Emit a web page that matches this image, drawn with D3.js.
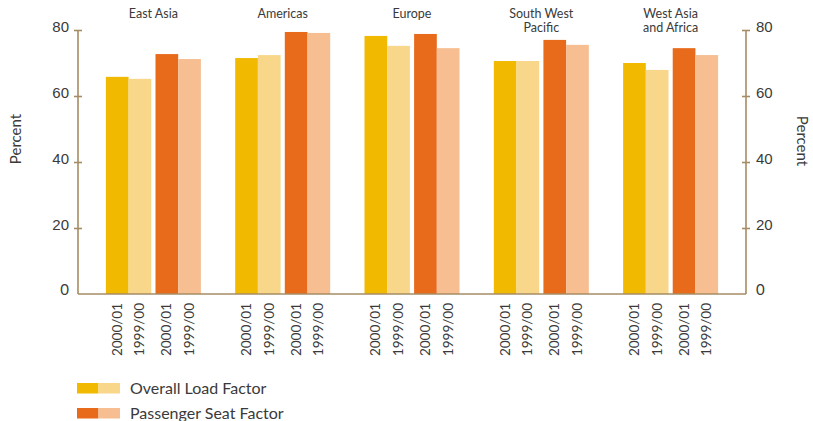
<!DOCTYPE html>
<html>
<head>
<meta charset="utf-8">
<script src="https://cdn.jsdelivr.net/npm/d3@7"></script>
<style>
  html, body { margin: 0; padding: 0; background: #fff; }
  svg { display: block; font-family: Lato, "Open Sans", "DejaVu Sans", sans-serif; }
  text { fill: #3a3a3a; }
</style>
</head>
<body>
<svg id="chart" width="813" height="421"></svg>
<script>
// Regions (two-line names split on "\n")
const regions = ["East Asia", "Americas", "Europe", "South West\nPacific", "West Asia\nand Africa"];
const factors = ["Overall Load Factor", "Passenger Seat Factor"];
const years = ["2000/01", "1999/00"];

// Percent values per region
const overall2000 = [65.8, 71.5, 78.2, 70.6, 70.0];
const overall1999 = [65.2, 72.4, 75.2, 70.6, 67.9];
const seat2000    = [72.7, 79.4, 78.8, 77.0, 74.5];
const seat1999    = [71.2, 79.1, 74.5, 75.5, 72.4];

const yTicks = [0, 20, 40, 60, 80];

const colors = {
  "Overall Load Factor": { "2000/01": "#f1ba00", "1999/00": "#f8d78b" },
  "Passenger Seat Factor": { "2000/01": "#e86a1b", "1999/00": "#f6be91" }
};

const series = [
  { factor: factors[0], year: years[0], values: overall2000 },
  { factor: factors[0], year: years[1], values: overall1999 },
  { factor: factors[1], year: years[0], values: seat2000 },
  { factor: factors[1], year: years[1], values: seat1999 }
];

const svg = d3.select("#chart");
const axisColor = "#a68c64";

const plot = { left: 78, right: 746, top: 30, bottom: 294 };

const x = d3.scaleBand().domain(regions)
  .range([plot.left, plot.right]).paddingInner(0).paddingOuter(0.083);
const xFactor = d3.scaleBand().domain(factors).range([-47.5, 47.5]).paddingInner(0.085);
const xYear = d3.scaleBand().domain(years).range([0, xFactor.bandwidth()]);
const y = d3.scaleLinear().domain([0, 80]).range([plot.bottom, plot.top]);

// Bars
const bars = [];
series.forEach(s => s.values.forEach((v, i) => bars.push({ region: regions[i], factor: s.factor, year: s.year, value: v })));

const barX = d => x(d.region) + x.bandwidth() / 2 + xFactor(d.factor) + xYear(d.year);

svg.append("g").selectAll("rect").data(bars).join("rect")
  .attr("x", barX)
  .attr("y", d => y(d.value))
  .attr("width", xYear.bandwidth())
  .attr("height", d => y(0) - y(d.value))
  .attr("fill", d => colors[d.factor][d.year]);

// Region headings, one text per line
const headLines = [];
regions.forEach(r => r.split("\n").forEach((line, i) => headLines.push({ region: r, line, i })));
svg.append("g").selectAll("text").data(headLines).join("text")
  .attr("x", d => x(d.region) + x.bandwidth() / 2)
  .attr("y", d => 18 + d.i * 14)
  .attr("text-anchor", "middle")
  .attr("font-size", 12.5)
  .text(d => d.line);

// Year labels under each bar
svg.append("g").selectAll("text").data(bars).join("text")
  .attr("transform", d => `translate(${barX(d) + xYear.bandwidth() / 2 + 4.5},${plot.bottom + 9}) rotate(-90)`)
  .attr("text-anchor", "end")
  .attr("font-size", 13.5)
  .text(d => d.year);

// Axes
const leftAxis = d3.axisLeft(y).tickValues(yTicks.filter(t => t > 0)).tickSize(0).tickFormat(d3.format("d"));
const rightAxis = d3.axisRight(y).tickValues(yTicks.filter(t => t > 0)).tickSize(0).tickFormat(d3.format("d"));

function styleAxis(g, side) {
  g.select(".domain").remove();
  g.append("line")
    .attr("y1", plot.top).attr("y2", plot.bottom)
    .attr("stroke", axisColor).attr("stroke-width", 1.6);
  g.selectAll(".tick").append("line")
    .attr("x1", -4).attr("x2", 4)
    .attr("stroke", axisColor).attr("stroke-width", 1.6);
  g.selectAll(".tick text")
    .attr("font-size", 15).attr("font-family", null)
    .attr("fill", "#3a3a3a")
    .attr("dy", "0.34em")
    .attr("y", -4)
    .attr("x", side === "left" ? -9 : 10);
}

const gl = svg.append("g").attr("transform", `translate(${plot.left},0)`).call(leftAxis);
styleAxis(gl, "left");
const gr = svg.append("g").attr("transform", `translate(${plot.right},0)`).call(rightAxis);
styleAxis(gr, "right");

// Zero labels sit at the baseline on both sides
[[plot.left - 9, "end"], [plot.right + 10, "start"]].forEach(([px, anchor]) => {
  svg.append("text")
    .attr("x", px).attr("y", y(0) - 4).attr("dy", "0.34em")
    .attr("text-anchor", anchor).attr("font-size", 15)
    .text(d3.format("d")(yTicks[0]));
});

// Baseline
svg.append("line")
  .attr("x1", plot.left).attr("x2", plot.right)
  .attr("y1", plot.bottom).attr("y2", plot.bottom)
  .attr("stroke", axisColor).attr("stroke-width", 1.6);

// Axis titles
svg.append("text")
  .attr("transform", `translate(21,139) rotate(-90)`)
  .attr("text-anchor", "middle").attr("font-size", 15)
  .text("Percent");
svg.append("text")
  .attr("transform", `translate(797,141) rotate(90)`)
  .attr("text-anchor", "middle").attr("font-size", 15)
  .text("Percent");

// Legend
const legend = svg.append("g").selectAll("g").data(factors).join("g")
  .attr("transform", (d, i) => `translate(77,${383 + i * 25})`);
legend.selectAll("rect").data(d => years.map(yr => ({ factor: d, year: yr }))).join("rect")
  .attr("x", (d, i) => i * 21.5)
  .attr("y", 0)
  .attr("width", 21.5)
  .attr("height", 10.5)
  .attr("fill", d => colors[d.factor][d.year]);
legend.append("text")
  .attr("x", 53)
  .attr("y", 10.5)
  .attr("font-size", 16)
  .text(d => d);
</script>
</body>
</html>
